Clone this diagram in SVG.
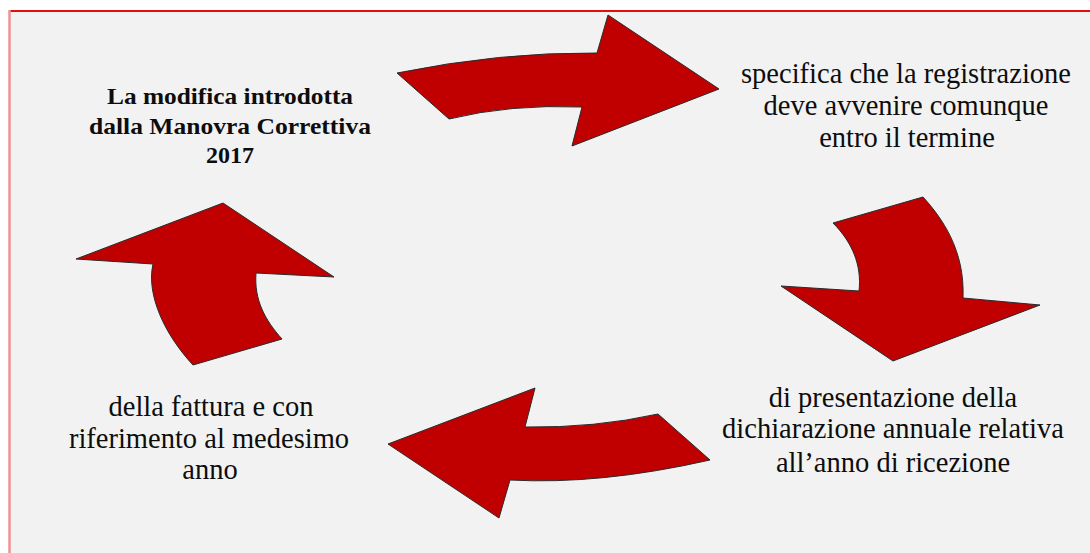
<svg xmlns="http://www.w3.org/2000/svg" width="1090" height="553" viewBox="0 0 1090 553">
  <style>
    .arrow { fill: #c00000; stroke: #2a2a2a; stroke-width: 1; stroke-linejoin: miter; }
    text { font-family: 'Liberation Serif', 'DejaVu Serif', serif; fill: #0d0d0d; text-anchor: middle; }
    .t { font-size: 28.5px; }
    .tb { font-size: 24px; font-weight: bold; }
  </style>
  <rect x="0" y="0" width="1090" height="553" fill="#ffffff"/>
  <rect x="9" y="10" width="1081" height="543" fill="#f2f2f2"/>
  <line x1="9" y1="11" x2="1090" y2="11" stroke="#e01010" stroke-width="2"/>
  <line x1="9.5" y1="10" x2="9.5" y2="553" stroke="#f09090" stroke-width="2.5"/>

  <g id="connectors">
    <path id="arrow-top" class="arrow" d="M397,73 Q500,52 597,53 L608,15 L719,89 L572,146 L582,107 Q510,104 449,119 Z"/>
    <path id="arrow-right" class="arrow" d="M833,223 L923,197 C942,218 965,250 963,298 L1040,305 L893,361 L781,286 L859,291 C862,265 852,242 833,223 Z"/>
    <path id="arrow-bottom" class="arrow" d="M658,414 L710,460 Q600,485 510,480 L499,518 L388,444 L535,388 L525,427 Q595,428 658,414 Z"/>
    <path id="arrow-left" class="arrow" d="M193,365 L282,339 C265,320 254,300 256,273 L334,277 L223,203 L76,259 L153,264 C146,295 165,335 193,365 Z"/>
  </g>

  <g id="node-top-left">
    <text class="tb" x="230" y="104" font-family="Liberation Serif, serif" textLength="246" lengthAdjust="spacingAndGlyphs">La modifica  introdotta</text>
    <text class="tb" x="230" y="134" font-family="Liberation Serif, serif" textLength="282" lengthAdjust="spacingAndGlyphs">dalla Manovra  Correttiva</text>
    <text class="tb" x="230" y="163" font-family="Liberation Serif, serif">2017</text>
  </g>

  <g id="node-top-right">
    <text class="t" x="906" y="83" font-family="Liberation Serif, serif">specifica che la registrazione</text>
    <text class="t" x="906" y="115" font-family="Liberation Serif, serif">deve avvenire comunque</text>
    <text class="t" x="907" y="147" font-family="Liberation Serif, serif">entro il termine</text>
  </g>

  <g id="node-bottom-right">
    <text class="t" x="893" y="407" font-family="Liberation Serif, serif">di presentazione della</text>
    <text class="t" x="893" y="438" font-family="Liberation Serif, serif">dichiarazione annuale relativa</text>
    <text class="t" x="893" y="472" font-family="Liberation Serif, serif">all’anno di ricezione</text>
  </g>

  <g id="node-bottom-left">
    <text class="t" x="211" y="416" font-family="Liberation Serif, serif">della fattura e con</text>
    <text class="t" x="209" y="448" font-family="Liberation Serif, serif">riferimento al medesimo</text>
    <text class="t" x="210" y="479" font-family="Liberation Serif, serif">anno</text>
  </g>
</svg>
